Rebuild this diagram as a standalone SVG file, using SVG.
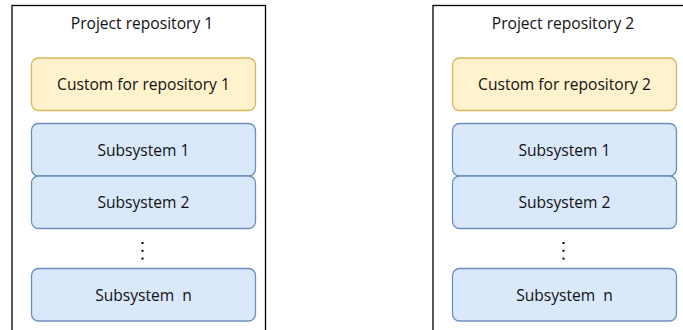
<svg xmlns="http://www.w3.org/2000/svg" width="683" height="330" viewBox="0 0 683 330">
  <style>
    text { font-family: "Open Sans", "Noto Sans", sans-serif; font-size: 15.6px; fill: #111111; text-anchor: middle; white-space: pre; }
    .repo { fill: #ffffff; stroke: #000000; stroke-width: 1.3; }
    .custom { fill: #fff2cc; stroke: #d6b656; stroke-width: 1.3; }
    .sub { fill: #dae8fc; stroke: #6c8ebf; stroke-width: 1.3; }
    .dot { fill: #000000; }
  </style>

  <!-- Repository 1 -->
  <g id="repo1">
    <rect class="repo" x="12" y="5.5" width="253.5" height="340"/>
    <text x="142" y="29">Project repository 1</text>
  </g>
  <g id="custom1">
    <rect class="custom" x="31.5" y="58" width="224" height="52.5" rx="7"/>
    <text x="143.5" y="89.5">Custom for repository 1</text>
  </g>
  <g id="sub1-1">
    <rect class="sub" x="31.5" y="123.5" width="224" height="52.5" rx="7"/>
    <text x="143.5" y="155.5">Subsystem 1</text>
  </g>
  <g id="sub1-2">
    <rect class="sub" x="31.5" y="176" width="224" height="52.5" rx="7"/>
    <text x="143.5" y="208">Subsystem 2</text>
  </g>
  <g id="ellipsis1">
    <rect class="dot" x="141.5" y="242" width="2" height="2"/>
    <rect class="dot" x="141.5" y="249.8" width="2" height="2"/>
    <rect class="dot" x="141.5" y="257.6" width="2" height="2"/>
  </g>
  <g id="sub1-n">
    <rect class="sub" x="31.5" y="268.5" width="224" height="52.5" rx="7"/>
    <text x="143.5" y="300.5">Subsystem  n</text>
  </g>

  <!-- Repository 2 -->
  <g id="repo2">
    <rect class="repo" x="433" y="5.5" width="253.5" height="340"/>
    <text x="563" y="29">Project repository 2</text>
  </g>
  <g id="custom2">
    <rect class="custom" x="452.5" y="58" width="224" height="52.5" rx="7"/>
    <text x="564.5" y="89.5">Custom for repository 2</text>
  </g>
  <g id="sub2-1">
    <rect class="sub" x="452.5" y="123.5" width="224" height="52.5" rx="7"/>
    <text x="564.5" y="155.5">Subsystem 1</text>
  </g>
  <g id="sub2-2">
    <rect class="sub" x="452.5" y="176" width="224" height="52.5" rx="7"/>
    <text x="564.5" y="208">Subsystem 2</text>
  </g>
  <g id="ellipsis2">
    <rect class="dot" x="562.5" y="242" width="2" height="2"/>
    <rect class="dot" x="562.5" y="249.8" width="2" height="2"/>
    <rect class="dot" x="562.5" y="257.6" width="2" height="2"/>
  </g>
  <g id="sub2-n">
    <rect class="sub" x="452.5" y="268.5" width="224" height="52.5" rx="7"/>
    <text x="564.5" y="300.5">Subsystem  n</text>
  </g>

  <!-- no connectors between the stacked blocks -->
  <g id="connectors"/>
</svg>
